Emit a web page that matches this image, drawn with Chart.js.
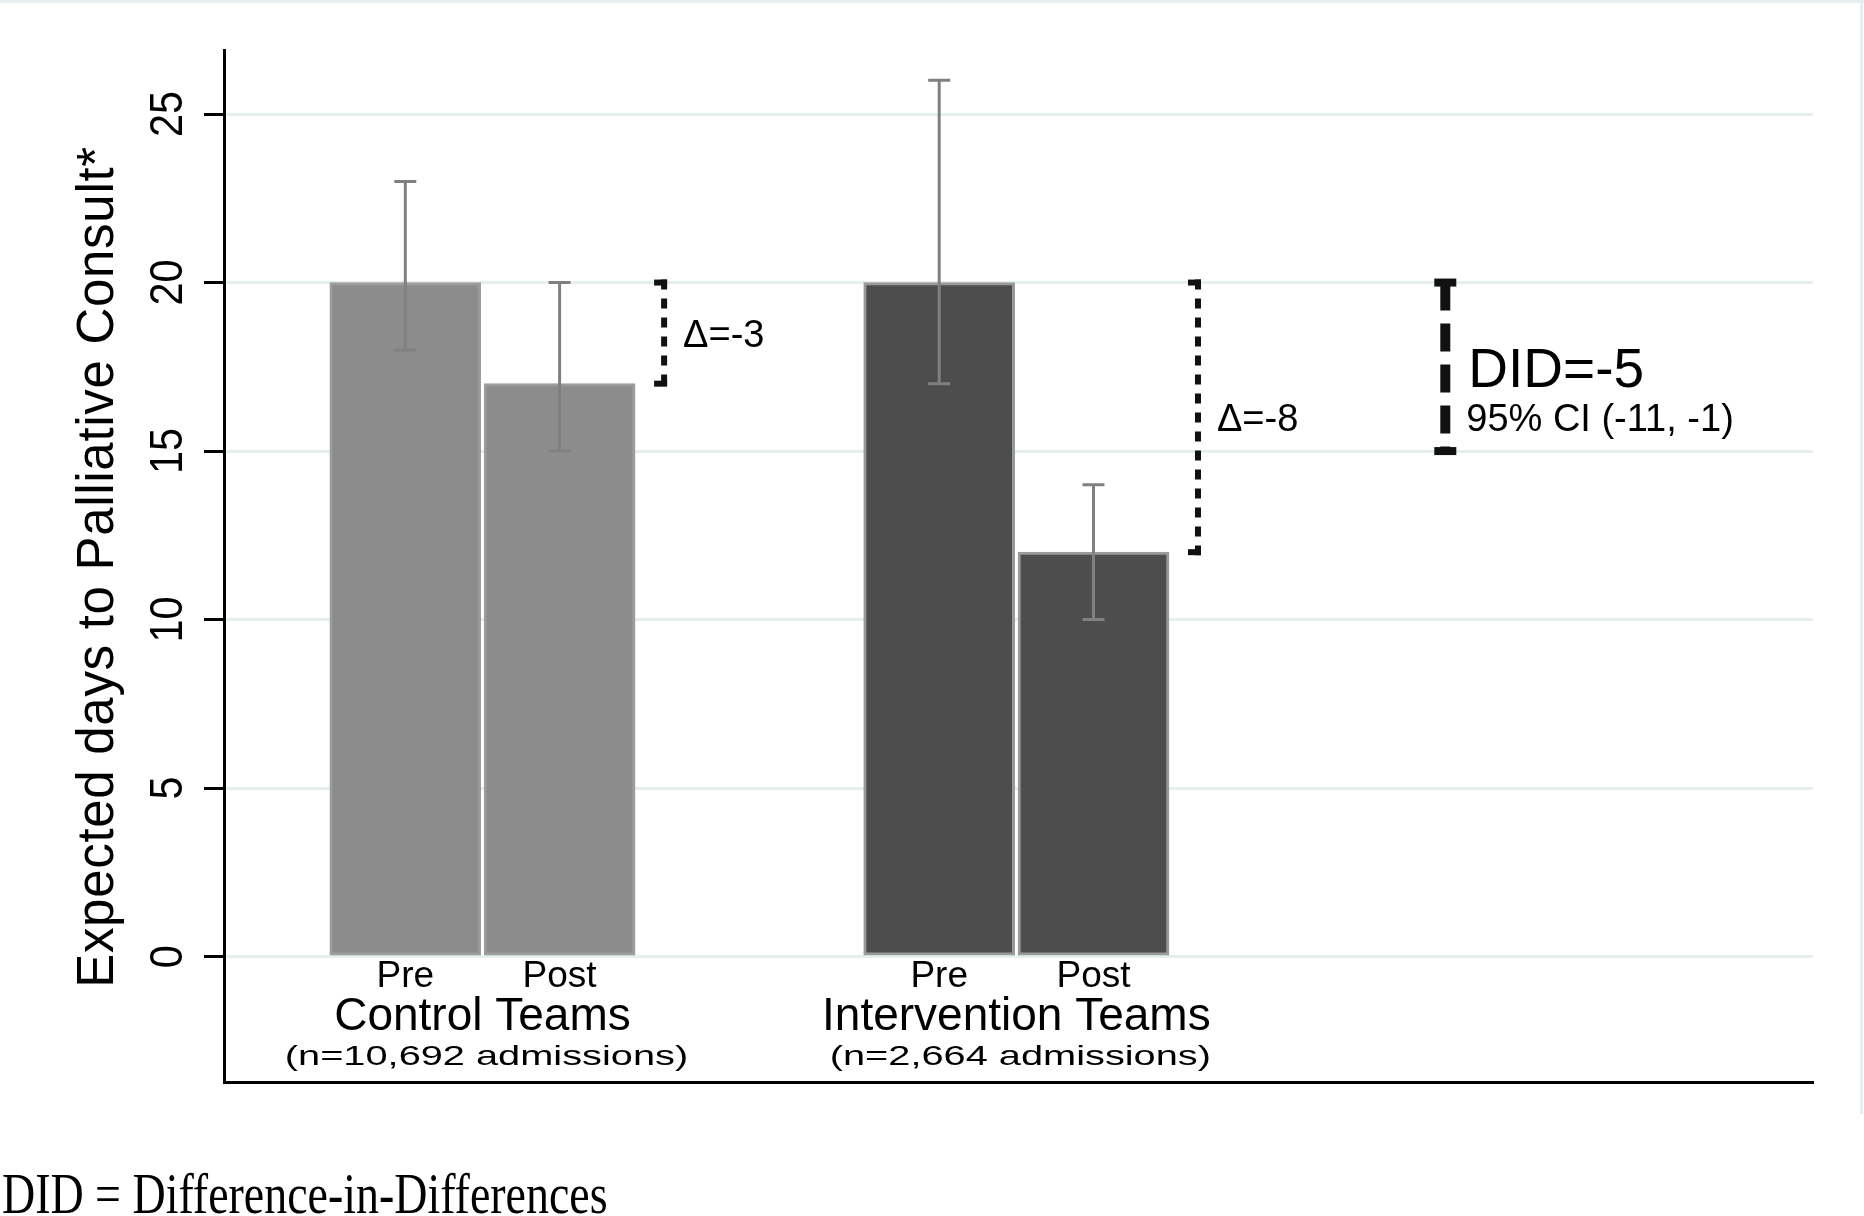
<!DOCTYPE html>
<html>
<head>
<meta charset="utf-8">
<script src="https://cdn.jsdelivr.net/npm/chart.js@4.4.1/dist/chart.umd.min.js"></script>
<style>
    html, body { margin: 0; padding: 0; background: #fff; }
    #wrap { width: 1864px; height: 1216px; }
</style>
</head>
<body>
<div id="wrap"><canvas id="chart" width="1864" height="1216"></canvas></div>
<script>
// data
const barLabels = ['Pre', 'Post', 'Pre', 'Post'];
const barPos = [1, 2, 4.46, 5.46];           // bar slots on the x scale
const values = [20, 17, 20, 12];              // expected days
const errLow = [18, 15, 17, 10];
const errHigh = [23, 20, 26, 14];
const groupNames = ['Control Teams', 'Intervention Teams'];
const groupNotes = ['(n=10,692 admissions)', '(n=2,664 admissions)'];
const deltas = ['Δ=-3', 'Δ=-8'];
const didValue = -5;
const didLabel = 'DID=-5';
const didCI = '95% CI (-11, -1)';
const yTicks = [0, 5, 10, 15, 20, 25];
const yTitle = 'Expected days to Palliative Consult*';
const footNote = 'DID = Difference-in-Differences';

const SANS = '"Liberation Sans", Arial, sans-serif';
const SERIF = '"Liberation Serif", "Times New Roman", serif';
const barFill = ['#8c8c8c', '#8c8c8c', '#4d4d4d', '#4d4d4d'];
const barEdge = ['#9c9c9c', '#9c9c9c', '#9a9a9a', '#9a9a9a'];
const gridColor = '#e6eef0';
const didX = 7.74; // x-scale slot for the DID bracket

function txt(ctx, s, x, y, size, align, font) {
    ctx.font = size + 'px ' + (font || SANS);
    ctx.textAlign = align || 'left';
    ctx.fillText(s, x, y);
}

const annot = {
    id: 'annot',
    afterDatasetsDraw(chart) {
        const { ctx, scales: { y } } = chart;
        const bars = chart.getDatasetMeta(0).data;
        ctx.save();
        ctx.strokeStyle = '#808080';
        ctx.lineWidth = 3;
        bars.forEach((b, i) => {
            const yl = y.getPixelForValue(errLow[i]);
            const yh = y.getPixelForValue(errHigh[i]);
            ctx.beginPath();
            ctx.moveTo(b.x, yl); ctx.lineTo(b.x, yh);
            ctx.moveTo(b.x - 11, yl); ctx.lineTo(b.x + 11, yl);
            ctx.moveTo(b.x - 11, yh); ctx.lineTo(b.x + 11, yh);
            ctx.stroke();
        });
        ctx.restore();
    },
    afterDraw(chart) {
        const { ctx, scales: { x, y } } = chart;
        const bars = chart.getDatasetMeta(0).data;
        ctx.save();
        ctx.fillStyle = '#000';
        ctx.textBaseline = 'alphabetic';

        // outer frame (top + right)
        ctx.strokeStyle = gridColor;
        ctx.lineWidth = 3;
        ctx.beginPath();
        ctx.moveTo(0, 1.5); ctx.lineTo(1864, 1.5);
        ctx.moveTo(1861.5, 0); ctx.lineTo(1861.5, 1114);
        ctx.stroke();

        // y tick labels, rotated
        y.ticks.forEach(t => {
            const py = y.getPixelForValue(t.value);
            ctx.save();
            ctx.translate(182, py);
            ctx.rotate(-Math.PI / 2);
            ctx.scale(0.9, 1);
            txt(ctx, String(t.value), 0, 0, 46, 'center');
            ctx.restore();
        });

        // y title
        ctx.save();
        ctx.translate(113, (y.top + y.bottom) / 2 + 1);
        ctx.rotate(-Math.PI / 2);
        ctx.letterSpacing = '0.7px';
        txt(ctx, yTitle, 0, 0, 51, 'center');
        ctx.restore();

        // bar labels and group labels
        bars.forEach((b, i) => txt(ctx, barLabels[i], b.x, 987, 37, 'center'));
        groupNames.forEach((g, k) => {
            const cx = (bars[2 * k].x + bars[2 * k + 1].x) / 2;
            txt(ctx, g, cx, 1030, 46, 'center');
            ctx.save();
            ctx.translate(cx + 4, 1065);
            ctx.scale(1.42, 1);
            txt(ctx, groupNotes[k], 0, 0, 28, 'center');
            ctx.restore();
        });

        // pre/post change brackets
        ctx.fillStyle = '#111';
        ctx.strokeStyle = '#111';
        groupNames.forEach((g, k) => {
            const post = bars[2 * k + 1];
            const bx = post.x + post.width / 2 + 29;
            const yt = y.getPixelForValue(values[2 * k]);
            const yb = y.getPixelForValue(values[2 * k + 1]);
            ctx.fillRect(bx - 10, yt - 3, 13, 6);
            ctx.fillRect(bx - 10, yb - 3, 13, 6);
            ctx.lineWidth = 6;
            ctx.setLineDash([10, 9]);
            ctx.beginPath();
            ctx.moveTo(bx, yt - 3); ctx.lineTo(bx, yb + 3);
            ctx.stroke();
            ctx.setLineDash([]);
            const ym = y.getPixelForValue((values[2 * k] + values[2 * k + 1]) / 2);
            ctx.fillStyle = '#000';
            txt(ctx, deltas[k], bx + 19, ym + 13.6, 38, 'left');
            ctx.fillStyle = '#111';
        });

        // difference-in-differences bracket
        const dx = x.getPixelForValue(didX);
        const dt = y.getPixelForValue(values[2]);
        const db = y.getPixelForValue(values[2] + didValue);
        ctx.lineWidth = 10;
        ctx.setLineDash([28, 13]);
        ctx.beginPath();
        ctx.moveTo(dx, dt); ctx.lineTo(dx, db);
        ctx.stroke();
        ctx.setLineDash([]);
        ctx.fillRect(dx - 11, dt - 4, 22, 8);
        ctx.fillRect(dx - 11, db - 4, 22, 8);
        ctx.fillStyle = '#000';
        txt(ctx, didLabel, dx + 23, y.getPixelForValue(values[2] + didValue / 2) + 19.7, 55, 'left');
        txt(ctx, didCI, dx + 21, y.getPixelForValue(16) + 13.6, 38, 'left');

        // footnote
        ctx.save();
        ctx.translate(2, 1213);
        ctx.scale(0.82, 1);
        txt(ctx, footNote, 0, 0, 56, 'left', SERIF);
        ctx.restore();

        ctx.restore();
    }
};

new Chart(document.getElementById('chart'), {
    type: 'bar',
    data: {
        datasets: [{
            data: barPos.map((p, i) => ({ x: p, y: values[i] })),
            backgroundColor: barFill,
            borderColor: barEdge,
            borderWidth: 3,
            borderSkipped: false,
            barThickness: 151
        }]
    },
    options: {
        responsive: false,
        animation: false,
        devicePixelRatio: 1,
        layout: { padding: { top: 50, right: 51, left: 0, bottom: 0 } },
        plugins: { legend: { display: false }, tooltip: { enabled: false } },
        scales: {
            x: {
                type: 'linear',
                offset: false,
                min: -0.175,
                max: 10.123,
                grid: { display: false },
                ticks: { display: false },
                border: { display: true, color: '#000', width: 3 },
                afterFit: s => { s.height = 134; }
            },
            y: {
                min: -3.72,
                max: 26.9,
                afterBuildTicks: s => { s.ticks = yTicks.map(v => ({ value: v })); },
                ticks: { display: false },
                grid: {
                    color: gridColor,
                    lineWidth: 3,
                    tickLength: 20,
                    tickColor: '#000',
                    tickWidth: 3
                },
                border: { display: true, color: '#000', width: 3 },
                afterFit: s => { s.width = 224; }
            }
        }
    },
    plugins: [annot]
});
</script>
</body>
</html>
